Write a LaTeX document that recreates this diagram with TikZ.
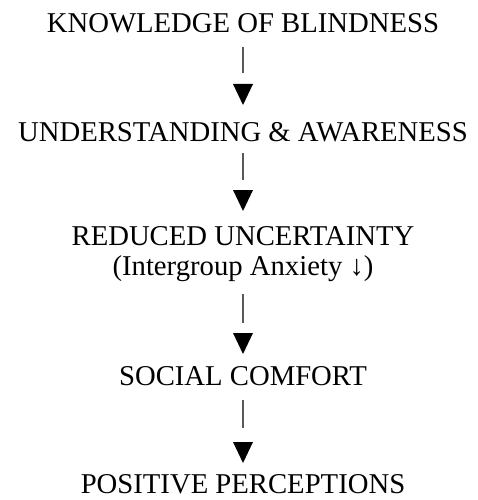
\documentclass[tikz,border=0pt]{standalone}
\usepackage{fontspec}
\setmainfont{Liberation Serif}
\begin{document}
\begin{tikzpicture}[x=1pt,y=-1pt,
  stage/.style={anchor=base, inner sep=0pt, font=\fontsize{28.7}{32}\selectfont},
  stem/.style={draw=black!65, line width=1.4pt},
  tip/.style={fill=black}]
\useasboundingbox (0,0) rectangle (477,500);

% stages of the chain
\node[stage] (know)  at (243,33)  {KNOWLEDGE OF BLINDNESS};
\node[stage] (under) at (243,141) {UNDERSTANDING \& AWARENESS};
\node[stage] (red)   at (243,245) {REDUCED UNCERTAINTY};
\node[stage] (anx)   at (243,275) {(Intergroup Anxiety ↓)};
\node[stage] (soc)   at (243,385) {SOCIAL COMFORT};
\node[stage] (pos)   at (243,493) {POSITIVE PERCEPTIONS};

% stems and arrow tips between consecutive stages
\foreach \name/\st/\se/\ts/\te in {a1/47/73/84/105, a2/153/180/190/211,
                                    a3/294/323/333/354, a4/400/428/442/463}{
  \coordinate (\name-s) at (243,\st);
  \coordinate (\name-e) at (243,\se);
  \draw[stem] (\name-s) -- (\name-e);
  \fill[tip] (233,\ts) -- (253,\ts) -- (243,\te) -- cycle;
}
\end{tikzpicture}
\end{document}
